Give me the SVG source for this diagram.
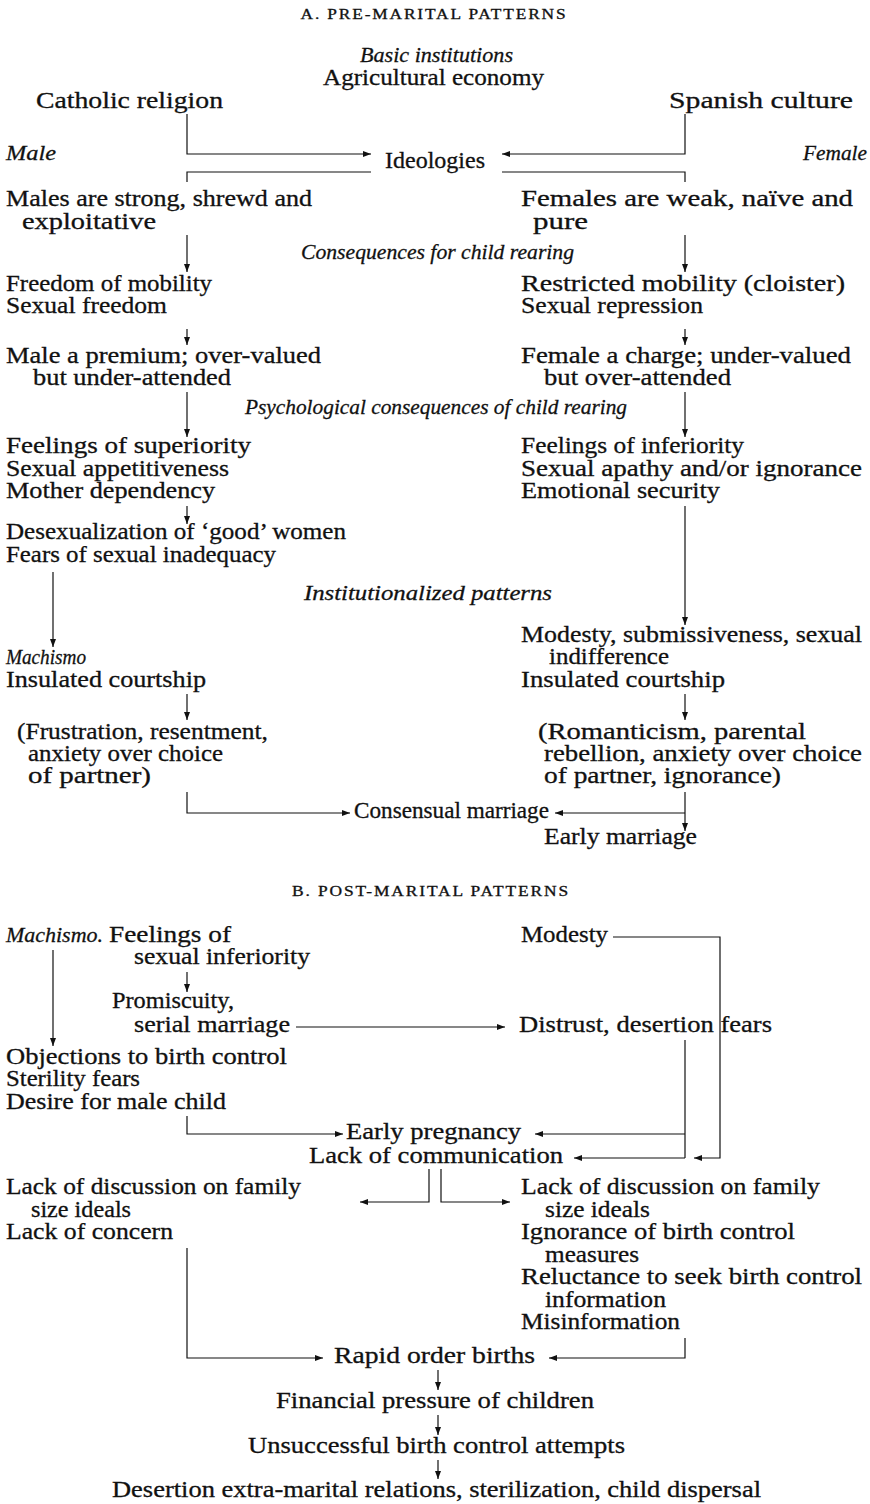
<svg xmlns="http://www.w3.org/2000/svg" width="870" height="1504" viewBox="0 0 870 1504">
<style>
text { font-family: "Liberation Serif", "Times New Roman", serif; font-size: 23px; fill: #111; stroke: #111; stroke-width: 0.3px; }
.i { font-style: italic; font-size: 22px; }
.h { font-size: 14px; text-anchor: middle; letter-spacing: 1.5px; }
.c { fill: none; stroke: #111; stroke-width: 1.2; }
.a { marker-end: url(#ah); }
</style>
<defs>
<marker id="ah" markerUnits="userSpaceOnUse" markerWidth="9" markerHeight="7" refX="8" refY="3" orient="auto">
<path d="M0,0 L8,3 L0,6 z" fill="#111"/>
</marker>
</defs>
<rect width="870" height="1504" fill="#fff"/>

<g id="connectors">
<path class="c a" d="M187,114 V154 H371"/>
<path class="c a" d="M685,114 V154 H502"/>
<path class="c" d="M187,182 V172 H371"/>
<path class="c" d="M685,182 V172 H502"/>
<path class="c a" d="M187,235 V272"/>
<path class="c a" d="M685,235 V272"/>
<path class="c a" d="M187,329 V345"/>
<path class="c a" d="M685,329 V345"/>
<path class="c a" d="M187,392 V437"/>
<path class="c a" d="M685,392 V437"/>
<path class="c a" d="M187,506 V524"/>
<path class="c a" d="M53,572 V647"/>
<path class="c a" d="M685,506 V625"/>
<path class="c a" d="M187,694 V720"/>
<path class="c a" d="M685,694 V720"/>
<path class="c a" d="M187,792 V813 H350"/>
<path class="c a" d="M685,792 V831"/>
<path class="c a" d="M685,813 H555"/>
<path class="c a" d="M613,937 H720 V1158 H694"/>
<path class="c a" d="M53,950 V1046"/>
<path class="c a" d="M187,972 V992"/>
<path class="c a" d="M296,1027 H505"/>
<path class="c" d="M685,1040 V1158"/>
<path class="c a" d="M685,1134 H535"/>
<path class="c a" d="M685,1158 H574"/>
<path class="c a" d="M187,1116 V1134 H343"/>
<path class="c a" d="M429,1169 V1202 H360"/>
<path class="c a" d="M441,1169 V1202 H510"/>
<path class="c a" d="M187,1248 V1358 H323"/>
<path class="c a" d="M685,1338 V1358 H549"/>
<path class="c a" d="M438,1370 V1390"/>
<path class="c a" d="M438,1415 V1435"/>
<path class="c a" d="M438,1460 V1479"/>
</g>

<g id="title-a"><text class="h" x="434" y="19" textLength="267" lengthAdjust="spacingAndGlyphs">A. PRE-MARITAL PATTERNS</text></g>
<g id="basic-institutions"><text class="i" x="360" y="62" textLength="153" lengthAdjust="spacingAndGlyphs">Basic institutions</text>
<text x="323" y="85" textLength="221" lengthAdjust="spacingAndGlyphs">Agricultural economy</text></g>
<g id="catholic"><text x="36" y="108" textLength="187" lengthAdjust="spacingAndGlyphs">Catholic religion</text></g>
<g id="spanish"><text x="669" y="108" textLength="184" lengthAdjust="spacingAndGlyphs">Spanish culture</text></g>
<g id="male-label"><text class="i" x="6" y="160" textLength="50" lengthAdjust="spacingAndGlyphs">Male</text></g>
<g id="female-label"><text class="i" x="803" y="160" textLength="64" lengthAdjust="spacingAndGlyphs">Female</text></g>
<g id="ideologies"><text x="385" y="168" textLength="100" lengthAdjust="spacingAndGlyphs">Ideologies</text></g>

<g id="m-ideology"><text x="6" y="206" textLength="306" lengthAdjust="spacingAndGlyphs">Males are strong, shrewd and</text>
<text x="22" y="229" textLength="134" lengthAdjust="spacingAndGlyphs">exploitative</text></g>
<g id="f-ideology"><text x="521" y="206" textLength="332" lengthAdjust="spacingAndGlyphs">Females are weak, naïve and</text>
<text x="533" y="229" textLength="55" lengthAdjust="spacingAndGlyphs">pure</text></g>

<g id="h-consequences"><text class="i" x="301" y="259" textLength="273" lengthAdjust="spacingAndGlyphs">Consequences for child rearing</text></g>
<g id="m-mobility"><text x="6" y="291" textLength="206" lengthAdjust="spacingAndGlyphs">Freedom of mobility</text>
<text x="6" y="313" textLength="161" lengthAdjust="spacingAndGlyphs">Sexual freedom</text></g>
<g id="f-mobility"><text x="521" y="291" textLength="324" lengthAdjust="spacingAndGlyphs">Restricted mobility (cloister)</text>
<text x="521" y="313" textLength="182" lengthAdjust="spacingAndGlyphs">Sexual repression</text></g>
<g id="m-premium"><text x="6" y="363" textLength="315" lengthAdjust="spacingAndGlyphs">Male a premium; over-valued</text>
<text x="33" y="385" textLength="198" lengthAdjust="spacingAndGlyphs">but under-attended</text></g>
<g id="f-charge"><text x="521" y="363" textLength="330" lengthAdjust="spacingAndGlyphs">Female a charge; under-valued</text>
<text x="544" y="385" textLength="187" lengthAdjust="spacingAndGlyphs">but over-attended</text></g>

<g id="h-psych"><text class="i" x="245" y="414" textLength="382" lengthAdjust="spacingAndGlyphs">Psychological consequences of child rearing</text></g>
<g id="m-psych"><text x="6" y="453" textLength="245" lengthAdjust="spacingAndGlyphs">Feelings of superiority</text>
<text x="6" y="475.5" textLength="223" lengthAdjust="spacingAndGlyphs">Sexual appetitiveness</text>
<text x="6" y="498" textLength="209" lengthAdjust="spacingAndGlyphs">Mother dependency</text></g>
<g id="f-psych"><text x="521" y="453" textLength="223" lengthAdjust="spacingAndGlyphs">Feelings of inferiority</text>
<text x="521" y="475.5" textLength="341" lengthAdjust="spacingAndGlyphs">Sexual apathy and/or ignorance</text>
<text x="521" y="498" textLength="199" lengthAdjust="spacingAndGlyphs">Emotional security</text></g>
<g id="m-desex"><text x="6" y="539" textLength="340" lengthAdjust="spacingAndGlyphs">Desexualization of ‘good’ women</text>
<text x="6" y="561.5" textLength="270" lengthAdjust="spacingAndGlyphs">Fears of sexual inadequacy</text></g>

<g id="h-institutionalized"><text class="i" x="304" y="600" textLength="248" lengthAdjust="spacingAndGlyphs">Institutionalized patterns</text></g>
<g id="f-modesty"><text x="521" y="641.5" textLength="341" lengthAdjust="spacingAndGlyphs">Modesty, submissiveness, sexual</text>
<text x="549" y="664" textLength="120" lengthAdjust="spacingAndGlyphs">indifference</text>
<text x="521" y="686.5" textLength="204" lengthAdjust="spacingAndGlyphs">Insulated courtship</text></g>
<g id="m-machismo"><text class="i" x="6" y="664" textLength="80" lengthAdjust="spacingAndGlyphs">Machismo</text>
<text x="6" y="686.5" textLength="200" lengthAdjust="spacingAndGlyphs">Insulated courtship</text></g>
<g id="m-frustration"><text x="17" y="739" textLength="251" lengthAdjust="spacingAndGlyphs">(Frustration, resentment,</text>
<text x="28" y="761" textLength="195" lengthAdjust="spacingAndGlyphs">anxiety over choice</text>
<text x="28" y="783" textLength="123" lengthAdjust="spacingAndGlyphs">of partner)</text></g>
<g id="f-romanticism"><text x="538" y="739" textLength="268" lengthAdjust="spacingAndGlyphs">(Romanticism, parental</text>
<text x="544" y="761" textLength="318" lengthAdjust="spacingAndGlyphs">rebellion, anxiety over choice</text>
<text x="544" y="783" textLength="237" lengthAdjust="spacingAndGlyphs">of partner, ignorance)</text></g>
<g id="consensual"><text x="354" y="818" textLength="195" lengthAdjust="spacingAndGlyphs">Consensual marriage</text></g>
<g id="early-marriage"><text x="544" y="844" textLength="153" lengthAdjust="spacingAndGlyphs">Early marriage</text></g>

<g id="title-b"><text class="h" x="431" y="896" textLength="278" lengthAdjust="spacingAndGlyphs">B. POST-MARITAL PATTERNS</text></g>
<g id="m-machismo-b"><text class="i" x="6" y="942" textLength="97" lengthAdjust="spacingAndGlyphs">Machismo.</text>
<text x="109" y="942" textLength="122" lengthAdjust="spacingAndGlyphs">Feelings of</text>
<text x="134" y="964" textLength="176" lengthAdjust="spacingAndGlyphs">sexual inferiority</text></g>
<g id="f-modesty-b"><text x="521" y="942" textLength="87" lengthAdjust="spacingAndGlyphs">Modesty</text></g>
<g id="promiscuity"><text x="112" y="1008" textLength="122" lengthAdjust="spacingAndGlyphs">Promiscuity,</text>
<text x="134" y="1032" textLength="156" lengthAdjust="spacingAndGlyphs">serial marriage</text></g>
<g id="distrust"><text x="519" y="1032" textLength="253" lengthAdjust="spacingAndGlyphs">Distrust, desertion fears</text></g>
<g id="objections"><text x="6" y="1064" textLength="281" lengthAdjust="spacingAndGlyphs">Objections to birth control</text>
<text x="6" y="1086" textLength="134" lengthAdjust="spacingAndGlyphs">Sterility fears</text>
<text x="6" y="1109" textLength="220" lengthAdjust="spacingAndGlyphs">Desire for male child</text></g>
<g id="early-pregnancy"><text x="346" y="1139" textLength="175" lengthAdjust="spacingAndGlyphs">Early pregnancy</text></g>
<g id="lack-communication"><text x="309" y="1163" textLength="254" lengthAdjust="spacingAndGlyphs">Lack of communication</text></g>
<g id="m-discussion"><text x="6" y="1194" textLength="295" lengthAdjust="spacingAndGlyphs">Lack of discussion on family</text>
<text x="31" y="1216.5" textLength="100" lengthAdjust="spacingAndGlyphs">size ideals</text>
<text x="6" y="1239" textLength="167" lengthAdjust="spacingAndGlyphs">Lack of concern</text></g>
<g id="f-discussion"><text x="521" y="1194" textLength="299" lengthAdjust="spacingAndGlyphs">Lack of discussion on family</text>
<text x="545" y="1216.5" textLength="105" lengthAdjust="spacingAndGlyphs">size ideals</text>
<text x="521" y="1239" textLength="274" lengthAdjust="spacingAndGlyphs">Ignorance of birth control</text>
<text x="545" y="1261.5" textLength="94" lengthAdjust="spacingAndGlyphs">measures</text>
<text x="521" y="1284" textLength="341" lengthAdjust="spacingAndGlyphs">Reluctance to seek birth control</text>
<text x="545" y="1306.5" textLength="121" lengthAdjust="spacingAndGlyphs">information</text>
<text x="521" y="1329" textLength="159" lengthAdjust="spacingAndGlyphs">Misinformation</text></g>
<g id="rapid-births"><text x="334" y="1363" textLength="201" lengthAdjust="spacingAndGlyphs">Rapid order births</text></g>
<g id="financial"><text x="276" y="1408" textLength="318" lengthAdjust="spacingAndGlyphs">Financial pressure of children</text></g>
<g id="unsuccessful"><text x="248" y="1453" textLength="377" lengthAdjust="spacingAndGlyphs">Unsuccessful birth control attempts</text></g>
<g id="desertion"><text x="112" y="1497" textLength="649" lengthAdjust="spacingAndGlyphs">Desertion extra-marital relations, sterilization, child dispersal</text></g>
</svg>
